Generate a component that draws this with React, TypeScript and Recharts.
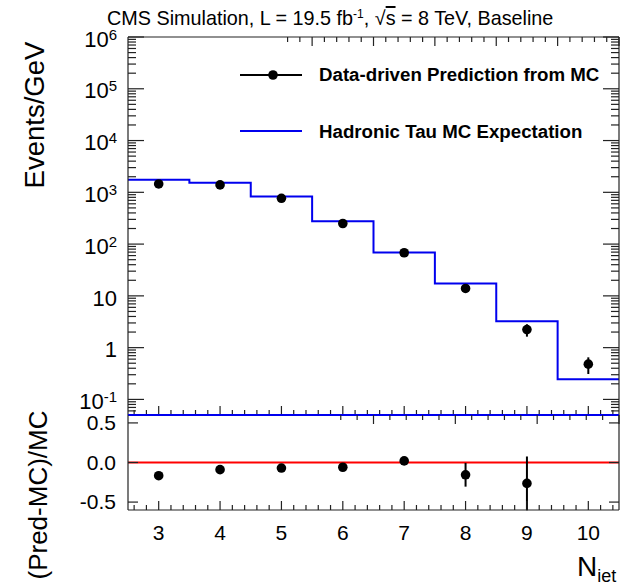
import { ComposedChart, Line, Scatter, ErrorBar, XAxis, YAxis, ReferenceLine } from 'recharts';

// jet multiplicity bins
const NJET = [3, 4, 5, 6, 7, 8, 9, 10];
// hadronic tau MC expectation (events/GeV), one value per bin
const MC_EXPECTATION = [1757, 1538, 826, 276, 69, 17.4, 3.23, 0.246];
// data-driven prediction with its uncertainty
const PREDICTION = [1452, 1390, 766, 250, 68, 13.9, 2.23, 0.48];
const PREDICTION_ERR = [15, 15, 10, 4, 1.5, 1, 0.6, 0.17];
// (Pred-MC)/MC, bin 10 falls outside the ratio range
const RATIO_NJET = [3, 4, 5, 6, 7, 8, 9];
const RATIO = [-0.167, -0.09, -0.07, -0.06, 0.02, -0.155, -0.264];
const RATIO_ERR = [0.02, 0.02, 0.02, 0.02, 0.05, 0.15, 0.34];

const LOG_DOMAIN = [0.05, 1e6];
const RATIO_DOMAIN = [-0.6, 0.6];
const RATIO_TICKS = [-0.5, 0, 0.5];
const RATIO_LABELS = ['-0.5', '0.0', '0.5'];
const X_DOMAIN = [2.5, 10.5];

const LEGEND_PRED = 'Data-driven Prediction from MC';
const LEGEND_MC = 'Hadronic Tau MC Expectation';

const W = 627;
const H = 582;
const LEFT = 128;
const RIGHT = 619;
const TOP = 37;
const MID = 415;
const BOTTOM = 510;
const FONT = '"Liberation Sans", Arial, Helvetica, sans-serif';
const TICK_COLOR = '#222';
const BLUE = '#0000ee';
const AX = 1; // axis box thickness
const LW = 1.2;

const stepData = [
  ...NJET.map((n, i) => ({ x: n - 0.5, mc: MC_EXPECTATION[i] })),
  { x: NJET[NJET.length - 1] + 0.5, mc: MC_EXPECTATION[MC_EXPECTATION.length - 1] },
];
const predData = NJET.map((n, i) => ({ x: n, y: PREDICTION[i], err: PREDICTION_ERR[i] }));
const ratioData = RATIO_NJET.map((n, i) => ({ x: n, y: RATIO[i], err: RATIO_ERR[i] }));

// log ticks: decades plus 2..9 minors
const logTicks: number[] = [];
for (let e = -2; e <= 5; e++) {
  for (let k = 1; k <= 9; k++) {
    const v = k * Math.pow(10, e);
    if (v >= LOG_DOMAIN[0] - 1e-12 && v <= LOG_DOMAIN[1] + 1e-6) logTicks.push(v);
  }
}
logTicks.push(1e6);
const isDecade = (v: number) => Math.abs(Math.log10(v) - Math.round(Math.log10(v))) < 1e-6;

// x ticks every 0.2, majors on integers
const xTicks: number[] = [];
for (let i = 0; i <= 40; i++) {
  const v = Math.round((2.5 + i * 0.2 + 0.1) * 10) / 10;
  if (v > X_DOMAIN[0] && v < X_DOMAIN[1]) xTicks.push(v);
}
const isInt = (v: number) => Math.abs(v - Math.round(v)) < 1e-6;

const GAP = 10;

const seg = (x1: number, y1: number, x2: number, y2: number) => (
  <line x1={x1} y1={y1} x2={x2} y2={y2} stroke={TICK_COLOR} strokeWidth={LW} />
);

const LeftLogTick = (props: any) => {
  const x = Number(props.x);
  const y = Number(props.y);
  const v = props.payload.value;
  const ax = x + GAP;
  if (!isDecade(v)) return <g>{seg(ax, y, ax + 8, y)}</g>;
  const e = Math.round(Math.log10(v));
  return (
    <g>
      {seg(ax, y, ax + 16, y)}
      <text x={ax - 11} y={y + 2} dy="0.35em" textAnchor="end" fontSize={22} fontFamily={FONT} fill="#000">
        {e === 0 ? '1' : e === 1 ? '10' : (
          <>
            10
            <tspan dy={-7} fontSize={15}>{e}</tspan>
          </>
        )}
      </text>
    </g>
  );
};

const RightLogTick = (props: any) => {
  const x = Number(props.x);
  const y = Number(props.y);
  const len = isDecade(props.payload.value) ? 16 : 8;
  return <g>{seg(x, y, x - len, y)}</g>;
};

const XUpTick = (props: any) => {
  const x = Number(props.x);
  const y = Number(props.y);
  const len = isInt(props.payload.value) ? 9 : 5;
  return <g>{seg(x, y, x, y - len)}</g>;
};

const XDownTick = (props: any) => {
  const x = Number(props.x);
  const y = Number(props.y);
  const len = isInt(props.payload.value) ? 9 : 5;
  return <g>{seg(x, y, x, y + len)}</g>;
};

const XBottomTick = (props: any) => {
  const x = Number(props.x);
  const y = Number(props.y);
  const v = props.payload.value;
  const major = isInt(v);
  return (
    <g>
      {seg(x, y, x, y - (major ? 9 : 5))}
      {major && (
        <text x={x} y={y + 30} textAnchor="middle" fontSize={21} fontFamily={FONT} fill="#000">
          {v}
        </text>
      )}
    </g>
  );
};

const RatioLeftTick = (props: any) => {
  const x = Number(props.x);
  const y = Number(props.y);
  const ax = x + GAP;
  const idx = RATIO_TICKS.indexOf(props.payload.value);
  return (
    <g>
      {seg(ax, y, ax + 10, y)}
      <text x={ax - 12} y={y} dy="0.35em" textAnchor="end" fontSize={21} fontFamily={FONT} fill="#000">
        {RATIO_LABELS[idx]}
      </text>
    </g>
  );
};

const RatioRightTick = (props: any) => {
  const x = Number(props.x);
  const y = Number(props.y);
  return <g>{seg(x, y, x - 10, y)}</g>;
};

const Dot = (props: any) => <circle cx={props.cx} cy={props.cy} r={4.8} fill="#000" />;

const xCommon = {
  type: 'number' as const,
  domain: X_DOMAIN,
  allowDataOverflow: true,
  ticks: xTicks,
  interval: 0 as const,
  height: AX,
  tickSize: 0,
  tickMargin: 0,
  tickLine: false,
};

export default function App() {
  return (
    <div style={{ position: 'absolute', left: 0, top: 0, width: W, height: H, background: '#fff', overflow: 'hidden' }}>
      <div style={{ position: 'absolute', left: 0, top: 0 }}>
        <ComposedChart
          width={W}
          height={MID + 12}
          data={stepData}
          margin={{ top: TOP - AX, right: W - RIGHT - AX, bottom: 12 - AX, left: LEFT - AX }}
        >
          <XAxis {...xCommon} dataKey="x" tick={<XUpTick />} stroke={BLUE} axisLine={{ stroke: BLUE, strokeWidth: 2 }} />
          <XAxis {...xCommon} xAxisId="top" orientation="top" tick={<XDownTick />} stroke="#000" axisLine={{ stroke: TICK_COLOR, strokeWidth: LW }} />
          <YAxis
            scale="log"
            type="number"
            domain={LOG_DOMAIN}
            allowDataOverflow
            ticks={logTicks}
            interval={0}
            width={AX}
            tickSize={0}
            tickMargin={GAP}
            tickLine={false}
            tick={<LeftLogTick />}
            stroke="#000"
            axisLine={{ stroke: TICK_COLOR, strokeWidth: LW }}
          />
          <YAxis
            yAxisId="right"
            orientation="right"
            scale="log"
            type="number"
            domain={LOG_DOMAIN}
            allowDataOverflow
            ticks={logTicks}
            interval={0}
            width={AX}
            tickSize={0}
            tickMargin={0}
            tickLine={false}
            tick={<RightLogTick />}
            stroke="#000"
            axisLine={{ stroke: TICK_COLOR, strokeWidth: LW }}
          />
          <Line
            type="stepAfter"
            dataKey="mc"
            stroke={BLUE}
            strokeWidth={2}
            dot={false}
            isAnimationActive={false}
          />
          <Scatter data={predData} dataKey="y" shape={<Dot />} isAnimationActive={false}>
            <ErrorBar dataKey="err" direction="y" width={0} stroke="#000" strokeWidth={2} />
          </Scatter>
        </ComposedChart>
      </div>

      <div style={{ position: 'absolute', left: 0, top: 0 }}>
        <ComposedChart
          width={W}
          height={H}
          data={ratioData}
          margin={{ top: MID - AX, right: W - RIGHT - AX, bottom: H - BOTTOM - AX, left: LEFT - AX }}
        >
          <XAxis {...xCommon} dataKey="x" tick={<XBottomTick />} stroke="#000" axisLine={{ stroke: TICK_COLOR, strokeWidth: LW }} />
          <XAxis {...xCommon} xAxisId="top" orientation="top" tick={<XDownTick />} stroke={BLUE} axisLine={{ stroke: BLUE, strokeWidth: 2 }} />
          <YAxis
            type="number"
            domain={RATIO_DOMAIN}
            allowDataOverflow
            ticks={RATIO_TICKS}
            interval={0}
            width={AX}
            tickSize={0}
            tickMargin={GAP}
            tickLine={false}
            tick={<RatioLeftTick />}
            stroke="#000"
            axisLine={{ stroke: TICK_COLOR, strokeWidth: LW }}
          />
          <YAxis
            yAxisId="right"
            orientation="right"
            type="number"
            domain={RATIO_DOMAIN}
            allowDataOverflow
            ticks={RATIO_TICKS}
            interval={0}
            width={AX}
            tickSize={0}
            tickMargin={0}
            tickLine={false}
            tick={<RatioRightTick />}
            stroke="#000"
            axisLine={{ stroke: TICK_COLOR, strokeWidth: LW }}
          />
          <ReferenceLine y={0} stroke="#ff0000" strokeWidth={2} />
          <Scatter data={ratioData} dataKey="y" shape={<Dot />} isAnimationActive={false}>
            <ErrorBar dataKey="err" direction="y" width={0} stroke="#000" strokeWidth={2} />
          </Scatter>
        </ComposedChart>
      </div>

      <svg
        width={W}
        height={H}
        style={{ position: 'absolute', left: 0, top: 0, pointerEvents: 'none' }}
        fontFamily={FONT}
      >
        <text x={107} y={25} fontSize={19.8} fill="#000">
          CMS Simulation, L = 19.5 fb
          <tspan dy={-7} fontSize={12}>-1</tspan>
          <tspan dy={7}>, √</tspan>
          <tspan textDecoration="overline">s</tspan>
          <tspan> = 8 TeV, Baseline</tspan>
        </text>

        <line x1={240} x2={302} y1={75} y2={75} stroke="#000" strokeWidth={2} />
        <circle cx={273} cy={75} r={4.8} fill="#000" />
        <text x={319} y={81} fontSize={18.7} fontWeight="bold" fill="#000">{LEGEND_PRED}</text>
        <line x1={240} x2={302} y1={131} y2={131} stroke={BLUE} strokeWidth={2} />
        <text x={319} y={138} fontSize={18.7} fontWeight="bold" fill="#000">{LEGEND_MC}</text>

        <text transform="translate(44,115) rotate(-90)" textAnchor="middle" fontSize={27.5} fill="#000">
          Events/GeV
        </text>
        <text transform="translate(47,495) rotate(-90)" textAnchor="middle" fontSize={26} fill="#000">
          (Pred-MC)/MC
        </text>
        <text x={577} y={576} fontSize={28} fill="#000">
          N
          <tspan dy={6} fontSize={18}>jet</tspan>
        </text>
      </svg>
    </div>
  );
}
